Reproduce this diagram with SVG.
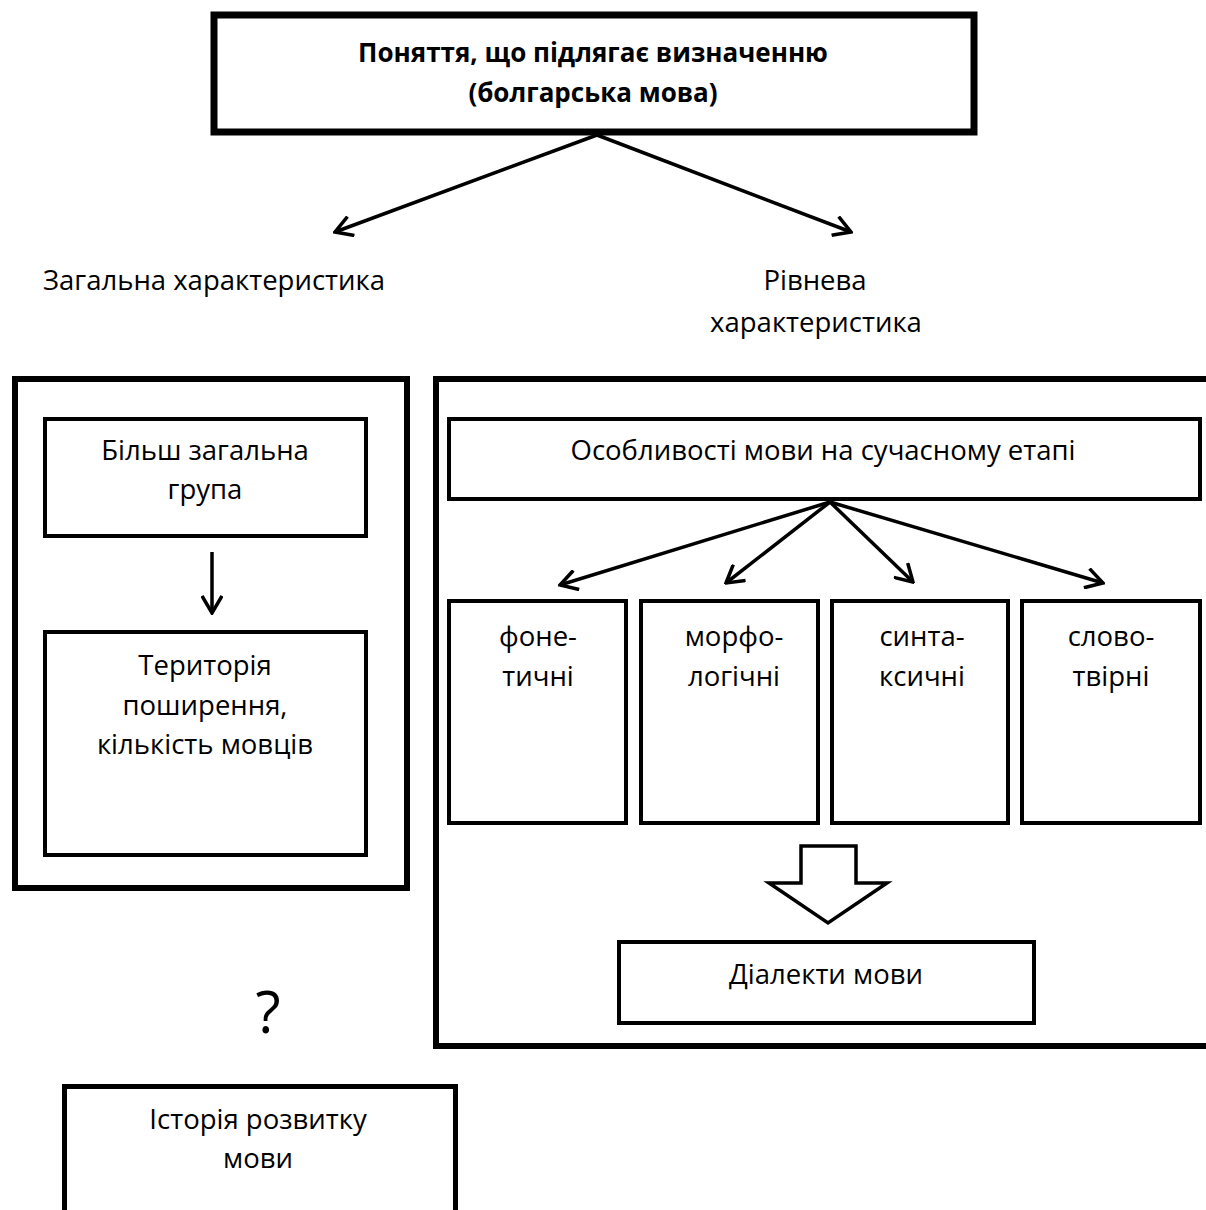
<svg xmlns="http://www.w3.org/2000/svg" width="1206" height="1210" viewBox="0 0 1206 1210">
<style>
.box{fill:#fff;stroke:#000}
.thick{stroke-width:7}
.outer{stroke-width:6}
.thin{stroke-width:4}
.t{font-family:"Open Sans","Noto Sans","Liberation Sans",sans-serif;font-size:27.5px;fill:#000;text-anchor:middle}
.b{font-weight:bold;font-size:26px}
.con{stroke:#000;stroke-width:3.5;fill:none;marker-end:url(#ah)}
</style>
<defs>
<marker id="ah" viewBox="0 0 22 22" refX="20" refY="11" markerWidth="22" markerHeight="22" markerUnits="userSpaceOnUse" orient="auto">
<path d="M3,1 L20,11 L3,21" fill="none" stroke="#000" stroke-width="3.5"/>
</marker>
</defs>
<rect width="1206" height="1210" fill="#fff"/>

<g id="root">
<rect class="box thick" x="214" y="15" width="760" height="117"/>
<text class="t b" x="593" y="62">Поняття, що підлягає визначенню</text>
<text class="t b" x="593" y="102">(болгарська мова)</text>
</g>

<g id="general-label">
<text class="t" x="214" y="290">Загальна характеристика</text>
</g>
<g id="level-label">
<text class="t" x="815" y="290">Рівнева</text>
<text class="t" x="816" y="332">характеристика</text>
</g>

<g id="general-frame">
<rect class="box outer" x="15" y="379" width="392" height="509"/>
</g>
<g id="group">
<rect class="box thin" x="45" y="419" width="321" height="117"/>
<text class="t" x="205" y="460">Більш загальна</text>
<text class="t" x="205" y="499">група</text>
</g>
<g id="territory">
<rect class="box thin" x="45" y="632" width="321" height="223"/>
<text class="t" x="205" y="675">Територія</text>
<text class="t" x="205" y="715">поширення,</text>
<text class="t" x="205" y="754">кількість мовців</text>
</g>

<g id="level-frame">
<rect class="box outer" x="436" y="379" width="800" height="667"/>
</g>
<g id="features">
<rect class="box thin" x="449" y="419" width="751" height="80"/>
<text class="t" x="823" y="460">Особливості мови на сучасному етапі</text>
</g>
<g id="phonetic">
<rect class="box thin" x="449" y="601" width="177" height="222"/>
<text class="t" x="538" y="646">фоне-</text>
<text class="t" x="538" y="686">тичні</text>
</g>
<g id="morphological">
<rect class="box thin" x="641" y="601" width="177" height="222"/>
<text class="t" x="734" y="646">морфо-</text>
<text class="t" x="734" y="686">логічні</text>
</g>
<g id="syntactic">
<rect class="box thin" x="832" y="601" width="176" height="222"/>
<text class="t" x="922" y="646">синта-</text>
<text class="t" x="922" y="686">ксичні</text>
</g>
<g id="wordformation">
<rect class="box thin" x="1022" y="601" width="178" height="222"/>
<text class="t" x="1111" y="646">слово-</text>
<text class="t" x="1111" y="686">твірні</text>
</g>
<g id="dialects">
<rect class="box thin" x="619" y="942" width="415" height="81"/>
<text class="t" x="826" y="984">Діалекти мови</text>
</g>

<g id="question">
<text class="t" x="268" y="1033" style="font-size:58px">?</text>
</g>

<g id="history">
<rect class="box" style="stroke-width:5" x="64.5" y="1086.5" width="391" height="200"/>
<text class="t" x="258" y="1129">Історія розвитку</text>
<text class="t" x="258" y="1168">мови</text>
</g>

<g id="connectors">
<line class="con" x1="597" y1="135" x2="335" y2="232"/>
<line class="con" x1="597" y1="135" x2="851" y2="232"/>
<line class="con" x1="212" y1="552" x2="212" y2="613"/>
<line class="con" x1="830" y1="502" x2="560" y2="585"/>
<line class="con" x1="830" y1="502" x2="726" y2="583"/>
<line class="con" x1="830" y1="502" x2="913" y2="582"/>
<line class="con" x1="830" y1="502" x2="1103" y2="583"/>
<polygon points="801,846 856,846 856,883 887,883 828,923 769,883 801,883" fill="#fff" stroke="#000" stroke-width="3.5" stroke-linejoin="miter"/>
</g>
</svg>
